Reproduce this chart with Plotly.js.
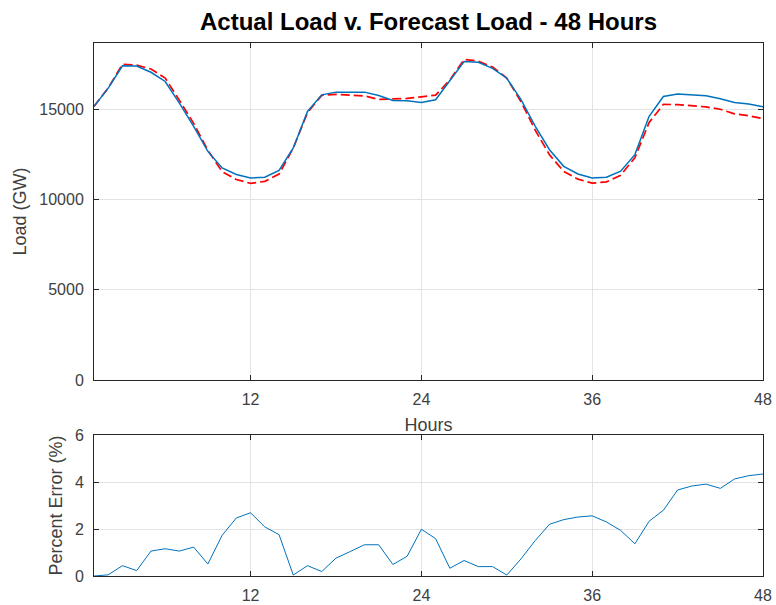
<!DOCTYPE html>
<html>
<head>
<meta charset="utf-8">
<script src="https://cdn.plot.ly/plotly-3.0.1.min.js"></script>
<style>
  html, body { margin: 0; padding: 0; background: #ffffff; }
  #chart { width: 776px; height: 605px; }
</style>
</head>
<body>
<div id="chart"></div>
<script>
// Hour of the 48-hour window
const hours = [1, 2, 3, 4, 5, 6, 7, 8, 9, 10, 11, 12, 13, 14, 15, 16, 17, 18, 19, 20, 21, 22, 23, 24,
               25, 26, 27, 28, 29, 30, 31, 32, 33, 34, 35, 36, 37, 38, 39, 40, 41, 42, 43, 44, 45, 46, 47, 48];

// Measured system load (GW)
const actualLoad = [15150, 16160, 17400, 17390, 17040, 16530, 15330, 14040, 12660, 11740, 11380, 11190,
                    11230, 11600, 12850, 14870, 15790, 15940, 15940, 15940, 15750, 15480, 15460, 15370,
                    15520, 16560, 17630, 17590, 17260, 16710, 15520, 14040, 12750, 11830, 11410, 11190,
                    11230, 11560, 12480, 14600, 15700, 15830, 15790, 15740, 15570, 15370, 15280, 15130];

// Day-ahead forecast load (GW)
const forecastLoad = [15150, 16170, 17480, 17430, 17220, 16720, 15490, 14210, 12720, 11540, 11100, 10890,
                      11000, 11400, 12845, 14805, 15760, 15820, 15770, 15730, 15540, 15560, 15590, 15680,
                      15770, 16610, 17750, 17660, 17330, 16720, 15410, 13830, 12470, 11550, 11120, 10900,
                      10970, 11340, 12310, 14260, 15260, 15250, 15190, 15120, 14990, 14740, 14630, 14470];

// Absolute forecast error (%)
const percentError = [0.00, 0.05, 0.44, 0.23, 1.06, 1.16, 1.06, 1.23, 0.51, 1.73, 2.47, 2.69,
                      2.09, 1.76, 0.04, 0.44, 0.19, 0.76, 1.04, 1.33, 1.33, 0.49, 0.84, 1.99,
                      1.59, 0.33, 0.66, 0.40, 0.40, 0.04, 0.73, 1.51, 2.20, 2.40, 2.51, 2.56,
                      2.30, 1.94, 1.37, 2.33, 2.80, 3.66, 3.83, 3.91, 3.73, 4.13, 4.27, 4.34];

const hourTicks = [12, 24, 36, 48];
const loadTicks = [0, 5000, 10000, 15000];
const errorTicks = [0, 2, 4, 6];

const axisColor = '#262626';
const gridColor = '#e3e3e3';
const fontFamily = '"Liberation Sans", Arial, Helvetica, sans-serif';

const traces = [
  {
    x: hours, y: forecastLoad, xaxis: 'x', yaxis: 'y',
    type: 'scatter', mode: 'lines', name: 'Forecast',
    line: { color: '#ff0000', width: 1.7, dash: '9px,4px' }
  },
  {
    x: hours, y: actualLoad, xaxis: 'x', yaxis: 'y',
    type: 'scatter', mode: 'lines', name: 'Actual',
    line: { color: '#0072bd', width: 1.5 }
  },
  {
    x: hours, y: percentError, xaxis: 'x2', yaxis: 'y2',
    type: 'scatter', mode: 'lines', name: 'Percent Error',
    line: { color: '#0072bd', width: 1 }
  }
];

function hourAxis(anchor, withTitle) {
  const ax = {
    anchor: anchor, domain: [0, 1], range: [1, 48],
    tickmode: 'array', tickvals: hourTicks, ticktext: hourTicks.map(String),
    ticks: 'inside', ticklen: 5, tickwidth: 1, tickcolor: axisColor,
    showline: true, linecolor: axisColor, linewidth: 1, mirror: 'ticks',
    showgrid: true, gridcolor: gridColor, gridwidth: 1, zeroline: false,
    tickfont: { size: 16, color: '#404040' },
    ticklabelstandoff: 5,
    automargin: false
  };
  if (withTitle) {
    ax.title = { text: 'Hours', font: { size: 18, color: '#404040' }, standoff: 11 };
  }
  return ax;
}

function valueAxis(anchor, domain, range, ticks, titleText) {
  return {
    anchor: anchor, domain: domain, range: range,
    tickmode: 'array', tickvals: ticks, ticktext: ticks.map(String),
    ticks: 'inside', ticklen: 5, tickwidth: 1, tickcolor: axisColor,
    showline: true, linecolor: axisColor, linewidth: 1, mirror: 'ticks',
    showgrid: true, gridcolor: gridColor, gridwidth: 1, zeroline: false,
    tickfont: { size: 16, color: '#404040' },
    ticklabelstandoff: 6,
    title: { text: titleText, font: { size: 18, color: '#404040' }, standoff: 7 },
    automargin: false
  };
}

const layout = {
  width: 776, height: 605,
  margin: { l: 94, r: 13, t: 43, b: 29, pad: 0 },
  paper_bgcolor: '#ffffff', plot_bgcolor: '#ffffff',
  showlegend: false,
  font: { family: fontFamily, color: '#404040', size: 16 },
  title: {
    text: '<b>Actual Load v. Forecast Load - 48 Hours</b>',
    font: { family: fontFamily, size: 24, color: '#000000' },
    x: 0.5, xref: 'paper', xanchor: 'center',
    y: 1 - 22 / 605, yref: 'container', yanchor: 'middle'
  },
  xaxis: hourAxis('y', true),
  yaxis: valueAxis('x', [0.3677, 1], [0, 18660], loadTicks, 'Load (GW)'),
  xaxis2: hourAxis('y2', false),
  yaxis2: valueAxis('x2', [0, 0.2645], [0, 6], errorTicks, 'Percent Error (%)')
};

Plotly.newPlot('chart', traces, layout, { staticPlot: true, displayModeBar: false });
</script>
</body>
</html>
